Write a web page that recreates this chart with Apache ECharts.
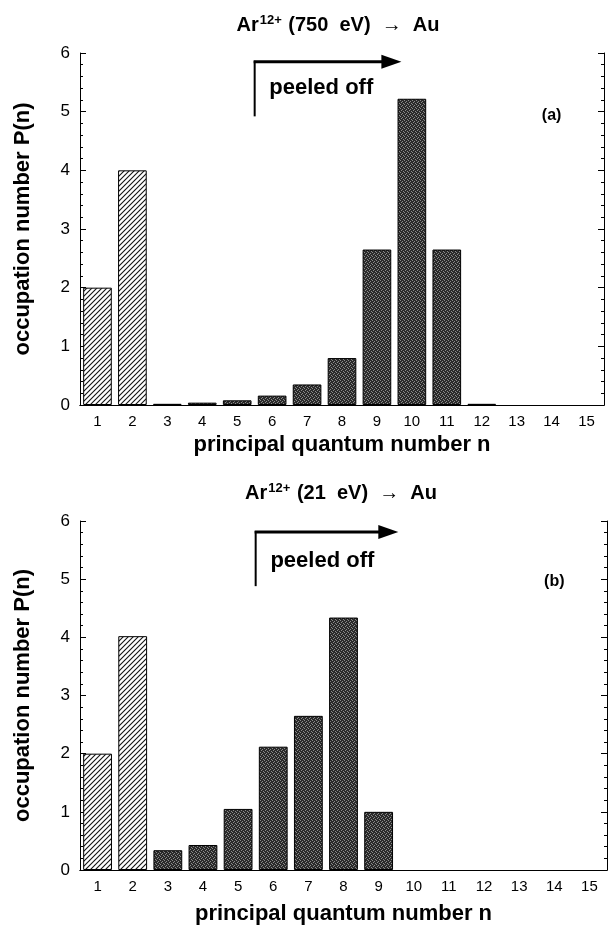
<!DOCTYPE html>
<html>
<head>
<meta charset="utf-8">
<script src="https://cdn.jsdelivr.net/npm/echarts@6/dist/echarts.min.js"></script>
<style>html,body{margin:0;padding:0;background:#fff}#c{width:611px;height:926px}</style>
</head>
<body>
<div id="c"></div>
<script>
var categories = ['1','2','3','4','5','6','7','8','9','10','11','12','13','14','15'];
var valuesA = [2.0, 4.0, 0.02, 0.04, 0.08, 0.16, 0.35, 0.8, 2.65, 5.22, 2.65, 0.02, 0, 0, 0];
var valuesB = [2.0, 4.02, 0.34, 0.43, 1.05, 2.12, 2.65, 4.34, 1.0, 0, 0, 0, 0, 0, 0];
var yTicks = ['0','1','2','3','4','5','6'];
var hatchedCount = 2;

function makeHatch(){
  var c = document.createElement('canvas'); c.width = 5; c.height = 5;
  var g = c.getContext('2d');
  g.fillStyle = '#fff'; g.fillRect(0,0,5,5);
  g.strokeStyle = '#111'; g.lineWidth = 1.1;
  g.beginPath(); g.moveTo(-1,6); g.lineTo(6,-1); g.stroke();
  g.beginPath(); g.moveTo(-1,1); g.lineTo(1,-1); g.stroke();
  g.beginPath(); g.moveTo(4,6); g.lineTo(6,4); g.stroke();
  return c;
}
function makeStipple(){
  var c = document.createElement('canvas'); c.width = 4; c.height = 4;
  var g = c.getContext('2d');
  g.fillStyle = '#2a2a2a'; g.fillRect(0,0,4,4);
  g.fillStyle = '#8a8a8a';
  g.fillRect(0,0,1,1); g.fillRect(2,1,1,1); g.fillRect(1,2,1,1); g.fillRect(3,3,1,1);
  return c;
}
var hatch = {image: makeHatch(), repeat: 'repeat'};
var stipple = {image: makeStipple(), repeat: 'repeat'};

function barData(vals){
  return vals.map(function(v,i){
    return {value: v, itemStyle: {color: i < hatchedCount ? hatch : stipple, borderColor:'#000', borderWidth: v > 0 ? 1 : 0}};
  });
}

var FONT = 'Liberation Sans, Arial, sans-serif';
var grids = [
  {left: 80, right: 7, top: 53, height: 352},
  {left: 80, right: 4, top: 521, height: 349}
];
function xAxes(gi, gap){
  return [
    {type:'category', gridIndex:gi, data:categories, boundaryGap:true,
     axisLine:{lineStyle:{color:'#000', width:1}},
     axisTick:{inside:true, length:4, lineStyle:{color:'#000'}},
     axisLabel:{color:'#000', fontSize:15, fontFamily:FONT, margin:9},
     name:'principal quantum number n', nameLocation:'middle', nameGap:gap,
     nameTextStyle:{color:'#000', fontSize:22, fontWeight:'bold', fontFamily:FONT}},
    {type:'category', gridIndex:gi, position:'top', data:categories, boundaryGap:true,
     axisLine:{lineStyle:{color:'#000', width:1}},
     axisTick:{inside:true, length:4, lineStyle:{color:'#000'}},
     axisLabel:{show:false}}
  ];
}
function yAxes(gi){
  return [
    {type:'value', gridIndex:gi, min:0, max:6, interval:1,
     axisLine:{show:true, lineStyle:{color:'#000', width:1}},
     axisTick:{show:true, inside:true, length:6, lineStyle:{color:'#000'}},
     minorTick:{show:true, splitNumber:5, length:3, lineStyle:{color:'#000'}},
     splitLine:{show:false},
     axisLabel:{color:'#000', fontSize:17, fontFamily:FONT, margin:10, formatter:function(v){return yTicks[v];}},
     name:'occupation number P(n)', nameLocation:'middle', nameGap:46, nameRotate:90,
     nameTextStyle:{color:'#000', fontSize:22, fontWeight:'bold', fontFamily:FONT}},
    {type:'value', gridIndex:gi, position:'right', min:0, max:6, interval:1,
     axisLine:{show:true, lineStyle:{color:'#000', width:1}},
     axisTick:{show:true, inside:true, length:6, lineStyle:{color:'#000'}},
     minorTick:{show:true, splitNumber:5, length:3, lineStyle:{color:'#000'}},
     splitLine:{show:false}, axisLabel:{show:false}}
  ];
}

var titleRich = {
  b:{fontSize:20, fontWeight:'bold', fontFamily:FONT, color:'#000'},
  sup:{fontSize:13, fontWeight:'bold', fontFamily:FONT, color:'#000', verticalAlign:'top', padding:[0,1,10,1]}
};
var option = {
  animation:false,
  backgroundColor:'#fff',
  title:[
    {text:'{b|Ar}{sup|12+}{b| (750  eV)  →  Au}', left:333, textAlign:'center', top:9, textStyle:{rich:titleRich}},
    {text:'{b|Ar}{sup|12+}{b| (21  eV)  →  Au}', left:336, textAlign:'center', top:477, textStyle:{rich:titleRich}}
  ],
  grid: grids,
  xAxis: xAxes(0, 29).concat(xAxes(1, 33)),
  yAxis: yAxes(0).concat(yAxes(1)),
  series:[
    {type:'bar', name:'750 eV', xAxisIndex:0, yAxisIndex:0, data:barData(valuesA), barWidth:'82%'},
    {type:'bar', name:'21 eV', xAxisIndex:2, yAxisIndex:2, data:barData(valuesB), barWidth:'82%'}
  ]
};
var chart = echarts.init(document.getElementById('c'), null, {renderer:'canvas'});
chart.setOption(option);

function xAt(gi, frac){
  var p0 = chart.convertToPixel({xAxisIndex: gi*2}, categories[0]);
  var p1 = chart.convertToPixel({xAxisIndex: gi*2}, categories[1]);
  var step = p1 - p0;
  return p0 + (frac - 0.5) * step;
}
function yAt(gi, v){ return chart.convertToPixel({yAxisIndex: gi*2}, v); }

function annot(gi, arrowY, baseY, tipFrac, textY, label, labelFrac, labelY){
  var x0 = xAt(gi, 5), xt = xAt(gi, tipFrac), ya = yAt(gi, arrowY), yb = yAt(gi, baseY);
  return [
    {type:'line', shape:{x1:x0, y1:yb, x2:x0, y2:ya-1}, style:{stroke:'#000', lineWidth:2}},
    {type:'line', shape:{x1:x0-1, y1:ya, x2:xt-14, y2:ya}, style:{stroke:'#000', lineWidth:3}},
    {type:'polygon', shape:{points:[[xt-20,ya-7],[xt,ya],[xt-20,ya+7]]}, style:{fill:'#000'}},
    {type:'text', x: xAt(gi, 5.42), y: yAt(gi, textY), style:{text:'peeled off', font:'bold 22px '+FONT, fill:'#000', textVerticalAlign:'middle'}},
    {type:'text', x: xAt(gi, labelFrac), y: yAt(gi, labelY), style:{text:label, font:'bold 16px '+FONT, fill:'#000', textAlign:'center', textVerticalAlign:'middle'}}
  ];
}
chart.setOption({graphic: annot(0, 5.85, 4.92, 9.2, 5.41, '(a)', 13.5, 4.93).concat(annot(1, 5.81, 4.88, 9.06, 5.32, '(b)', 13.5, 4.95))});
</script>
</body>
</html>
